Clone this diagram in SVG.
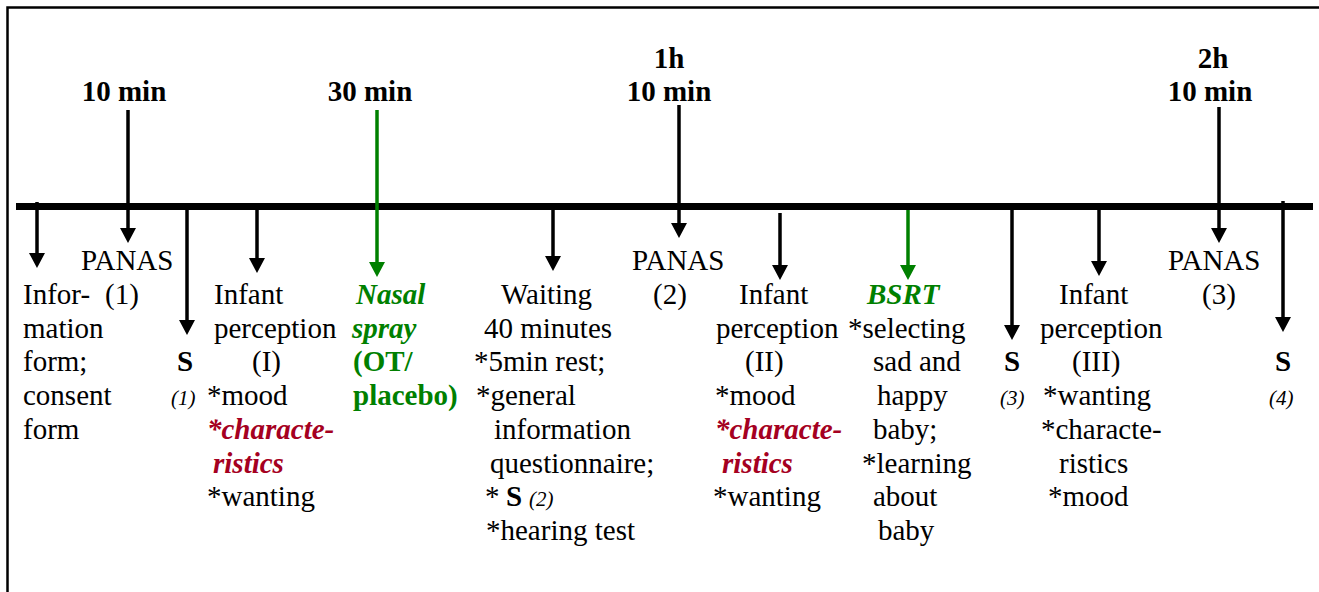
<svg xmlns="http://www.w3.org/2000/svg" width="1319" height="592" viewBox="0 0 1319 592" font-family="Liberation Serif, serif">
<style>
text{font-size:29px;fill:#000}
.b{font-weight:bold}
.t{font-weight:bold;text-anchor:middle}
.g{fill:#008000;font-weight:bold}
.gi{fill:#008000;font-weight:bold;font-style:italic}
.r{fill:#A50021;font-weight:bold;font-style:italic}
.sm{font-style:italic;font-size:21px}
.ab{stroke:#000;stroke-width:3.5;fill:none}
.ag{stroke:#008000;stroke-width:3.5;fill:none}
</style>
<defs>
<marker id="hb" markerUnits="userSpaceOnUse" markerWidth="16" markerHeight="18" viewBox="0 -9 16 18" refX="0" refY="0" orient="auto"><path d="M0,-8 L15,0 L0,8 z" fill="#000"/></marker>
<marker id="hg" markerUnits="userSpaceOnUse" markerWidth="16" markerHeight="18" viewBox="0 -9 16 18" refX="0" refY="0" orient="auto"><path d="M0,-8 L15,0 L0,8 z" fill="#008000"/></marker>
</defs>
<rect width="1319" height="592" fill="#fff"/>
<g id="frame">
<path d="M7.5,592 V7.5 H1319" stroke="#000" stroke-width="2.5" fill="none"/>
</g>
<g id="timeline">
<line x1="16" y1="206.5" x2="1313" y2="206.5" stroke="#000" stroke-width="7"/>
</g>
<g id="connectors">
<line class="ab" x1="37" y1="202" x2="37" y2="253" marker-end="url(#hb)"/>
<line class="ab" x1="128" y1="110" x2="128" y2="228" marker-end="url(#hb)"/>
<line class="ab" x1="187" y1="210" x2="187" y2="320" marker-end="url(#hb)"/>
<line class="ab" x1="257" y1="210" x2="257" y2="258" marker-end="url(#hb)"/>
<line class="ag" x1="377" y1="110" x2="377" y2="262" marker-end="url(#hg)"/>
<line class="ab" x1="553" y1="210" x2="553" y2="256" marker-end="url(#hb)"/>
<line class="ab" x1="679" y1="105" x2="679" y2="223" marker-end="url(#hb)"/>
<line class="ab" x1="780" y1="213" x2="780" y2="265" marker-end="url(#hb)"/>
<line class="ag" x1="908" y1="210" x2="908" y2="265" marker-end="url(#hg)"/>
<line class="ab" x1="1012" y1="210" x2="1012" y2="325" marker-end="url(#hb)"/>
<line class="ab" x1="1099" y1="210" x2="1099" y2="261" marker-end="url(#hb)"/>
<line class="ab" x1="1219" y1="107" x2="1219" y2="228" marker-end="url(#hb)"/>
<line class="ab" x1="1283" y1="201" x2="1283" y2="317" marker-end="url(#hb)"/>
</g>
<g id="time-labels">
<text class="t" x="124" y="101">10 min</text>
<text class="t" x="370" y="101">30 min</text>
<text class="t" x="669" y="68">1h</text>
<text class="t" x="669" y="101">10 min</text>
<text class="t" x="1213" y="68">2h</text>
<text class="t" x="1210" y="101">10 min</text>
</g>
<g id="info">
<text x="23" y="304">Infor-</text>
<text x="23" y="338">mation</text>
<text x="23" y="371">form;</text>
<text x="23" y="405">consent</text>
<text x="23" y="439">form</text>
</g>
<g id="panas1">
<text x="81" y="270">PANAS</text>
<text x="105" y="304">(1)</text>
</g>
<g id="s1">
<text class="b" x="177" y="371">S</text>
<text class="sm" x="171" y="405">(1)</text>
</g>
<g id="infant1">
<text x="214" y="304">Infant</text>
<text x="214" y="338">perception</text>
<text x="252" y="371">(I)</text>
<text x="207" y="405">*mood</text>
<text class="r" x="207" y="439">*characte-</text>
<text class="r" x="213" y="473">ristics</text>
<text x="207" y="506">*wanting</text>
</g>
<g id="nasal">
<text class="gi" x="356" y="304">Nasal</text>
<text class="gi" x="352" y="338">spray</text>
<text class="g" x="353" y="371">(OT/</text>
<text class="g" x="353" y="405">placebo)</text>
</g>
<g id="waiting">
<text x="501" y="304">Waiting</text>
<text x="484" y="338">40 minutes</text>
<text x="474" y="371">*5min rest;</text>
<text x="476" y="405">*general</text>
<text x="494" y="439">information</text>
<text x="490" y="473">questionnaire;</text>
<text x="485" y="506">*</text>
<text class="b" x="506" y="506">S</text>
<text class="sm" x="529" y="506">(2)</text>
<text x="486" y="540">*hearing test</text>
</g>
<g id="panas2">
<text x="632" y="270">PANAS</text>
<text x="653" y="304">(2)</text>
</g>
<g id="infant2">
<text x="739" y="304">Infant</text>
<text x="716" y="338">perception</text>
<text x="745" y="371">(II)</text>
<text x="715" y="405">*mood</text>
<text class="r" x="715" y="439">*characte-</text>
<text class="r" x="722" y="473">ristics</text>
<text x="713" y="506">*wanting</text>
</g>
<g id="bsrt">
<text class="gi" x="867" y="304">BSRT</text>
<text x="848" y="338">*selecting</text>
<text x="873" y="371">sad and</text>
<text x="877" y="405">happy</text>
<text x="873" y="439">baby;</text>
<text x="862" y="473">*learning</text>
<text x="873" y="506">about</text>
<text x="878" y="540">baby</text>
</g>
<g id="s3">
<text class="b" x="1004" y="371">S</text>
<text class="sm" x="1000" y="405">(3)</text>
</g>
<g id="infant3">
<text x="1059" y="304">Infant</text>
<text x="1040" y="338">perception</text>
<text x="1072" y="371">(III)</text>
<text x="1043" y="405">*wanting</text>
<text x="1041" y="439">*characte-</text>
<text x="1059" y="473">ristics</text>
<text x="1048" y="506">*mood</text>
</g>
<g id="panas3">
<text x="1168" y="270">PANAS</text>
<text x="1202" y="304">(3)</text>
</g>
<g id="s4">
<text class="b" x="1275" y="371">S</text>
<text class="sm" x="1269" y="405">(4)</text>
</g>
</svg>
